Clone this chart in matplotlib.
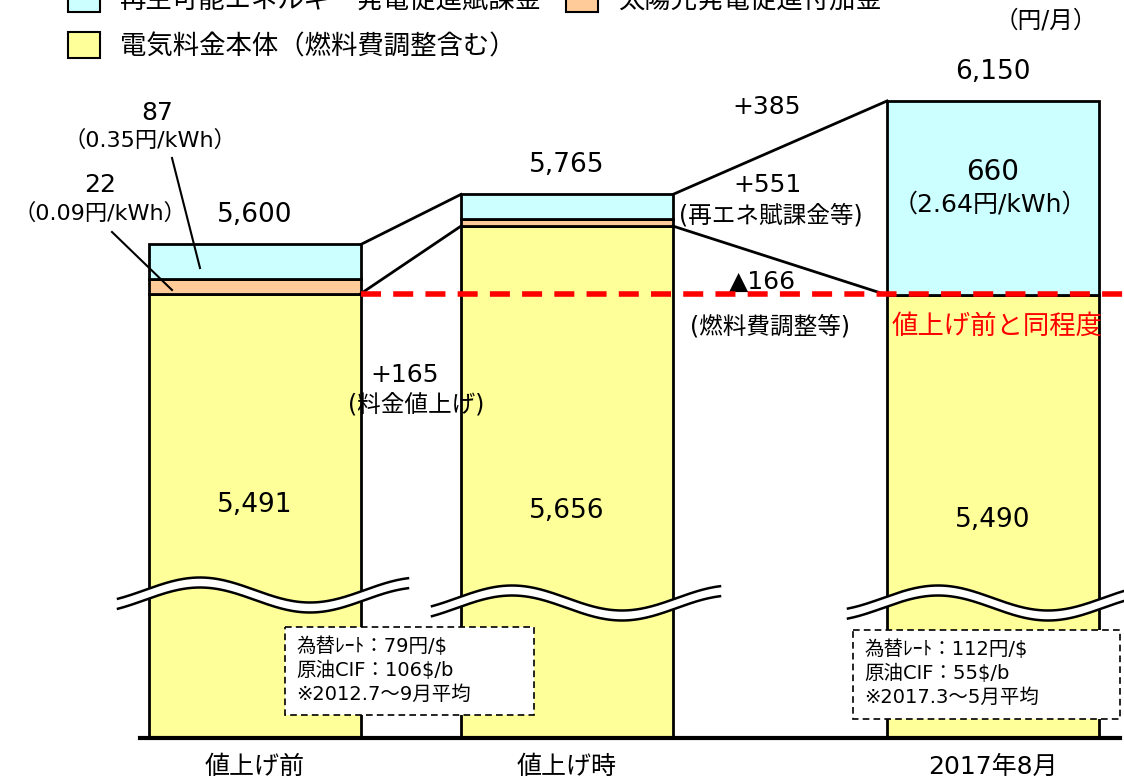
import numpy as np
import matplotlib.pyplot as plt
import matplotlib.transforms as mtransforms
from matplotlib.patches import Patch, Rectangle, Polygon

plt.rcParams['font.family'] = ['DejaVu Sans', 'Noto Sans CJK JP']

# 料金内訳（円/月）
categories = ['値上げ前', '値上げ時', '2017年8月']
base = [5491, 5656, 5490]        # 電気料金本体（燃料費調整含む）
solar = [22, 22, 0]              # 太陽光発電促進付加金
renewable = [87, 87, 660]        # 再生可能エネルギー発電促進賦課金
totals = [5600, 5765, 6150]
diff_labels = ['+165', '+385', '+551', '▲166']
rate_notes = [['為替ﾚｰﾄ：79円/$', '原油CIF：106$/b', '※2012.7～9月平均'],
              ['為替ﾚｰﾄ：112円/$', '原油CIF：55$/b', '※2017.3～5月平均']]

C_BASE, C_SOLAR, C_RENEW = '#FFFF99', '#FFCC99', '#CCFFFF'

W, H = 1124, 779
fig = plt.figure(figsize=(W / 100, H / 100), dpi=100)
ax = fig.add_axes([0, 0, 1, 1])

# 縦軸は省略記号付き：本体部分は圧縮、上乗せ部分は拡大
B = 5490.0
S = 443.0 / B
K = 1.49
P = 0.75


def fwd(v):
    v = np.asarray(v, dtype=float)
    d = np.clip(v - B, 0, None)
    return np.where(v <= B, v * S, B * S + K * d ** P)


def inv(u):
    u = np.asarray(u, dtype=float)
    d = np.clip(u - B * S, 0, None)
    return np.where(u <= B * S, u / S, B + (d / K) ** (1 / P))


ax.set_yscale('function', functions=(fwd, inv))

# 画素座標（左上原点）
px = mtransforms.Affine2D().scale(1 / W, -1 / H).translate(0, 1) + fig.transFigure

xs = np.array([255, 567, 993])
bw = 212
bot2 = np.add(base, solar)
ax.bar(xs, base, width=bw, color=C_BASE, edgecolor='black', lw=2, zorder=2)
ax.bar(xs, solar, width=bw, bottom=base, color=C_SOLAR, edgecolor='black', lw=2, zorder=2)
ax.bar(xs, renewable, width=bw, bottom=bot2, color=C_RENEW, edgecolor='black', lw=2, zorder=2)

# 棒の間の連結線
for i in range(2):
    xr, xl = xs[i] + bw / 2, xs[i + 1] - bw / 2
    ax.plot([xr, xl], [totals[i], totals[i + 1]], color='black', lw=2, zorder=3)
    ax.plot([xr, xl], [base[i], base[i + 1]], color='black', lw=2, zorder=3)

# 値上げ前の水準
ax.plot([xs[0] + bw / 2, W], [base[0], base[0]], color='red', lw=4,
        ls=(0, (3.6, 2.2)), zorder=5)

# 基準線
ax.plot([140, 1120], [0, 0], color='black', lw=3, zorder=6)

# 合計値
for x, t in zip(xs, totals):
    ax.annotate(f'{t:,}', (x, t), xytext=(0, 21), textcoords='offset points',
                ha='center', va='center', fontsize=19)

# 本体の値
for x, v, y in zip(xs, base, [505, 511, 520]):
    ax.text(x, y, f'{v:,}', transform=px, ha='center', va='center', fontsize=19)

# 区分名
for x, c in zip(xs, categories):
    ax.annotate(c, (x, 0), xytext=(0, -21), textcoords='offset points',
                ha='center', va='center', fontsize=18)

# 省略記号（波線）
for xc, yc, x0, x1 in [(255, 590, 118, 408), (567, 598, 432, 720), (993, 598, 848, 1124)]:
    xx = np.linspace(x0, x1, 200)
    yy = yc - 12.5 * np.sin(2 * np.pi * (xx - xc + 110) / 220)
    poly = np.column_stack([np.r_[xx, xx[::-1]], np.r_[yy, yy[::-1] + 10]])
    ax.add_patch(Polygon(poly, closed=True, facecolor='white', edgecolor='none',
                         transform=px, zorder=4))
    ax.plot(xx, yy, color='black', lw=1.8, transform=px, zorder=4)
    ax.plot(xx, yy + 10, color='black', lw=1.8, transform=px, zorder=4)

# 為替・原油の注記
for (x0, y0, w, h), lines in zip([(285, 627, 249, 88), (853, 630, 267, 89)], rate_notes):
    ax.add_patch(Rectangle((x0, y0), w, h, transform=px, facecolor='white',
                           edgecolor='black', lw=1.2, ls=(0, (4, 2.5)), zorder=7))
    for j, s in enumerate(lines):
        ax.text(x0 + 11, y0 + 19 + j * 24, s, transform=px, ha='left', va='center',
                fontsize=14, zorder=8)

# 賦課金・付加金の注記
ax.text(157, 113, f'{renewable[0]}', transform=px, ha='center', va='center', fontsize=18)
ax.text(150, 140, '（0.35円/kWh）', transform=px, ha='center', va='center', fontsize=16)
ax.text(100, 185, f'{solar[0]}', transform=px, ha='center', va='center', fontsize=18)
ax.text(100, 213, '（0.09円/kWh）', transform=px, ha='center', va='center', fontsize=16)
ax.plot([172, 200], [158, 268], color='black', lw=1.5, transform=px, zorder=6)
ax.plot([112, 172], [232, 290], color='black', lw=1.5, transform=px, zorder=6)

ax.text(993, 172, f'{renewable[2]}', transform=px, ha='center', va='center', fontsize=20)
ax.text(990, 205, '（2.64円/kWh）', transform=px, ha='center', va='center', fontsize=18)

ax.text(405, 375, diff_labels[0], transform=px, ha='center', va='center', fontsize=18, zorder=6)
ax.text(416, 405, '(料金値上げ)', transform=px, ha='center', va='center', fontsize=17, zorder=6)
ax.text(767, 107, diff_labels[1], transform=px, ha='center', va='center', fontsize=18)
ax.text(767, 185, diff_labels[2], transform=px, ha='center', va='center', fontsize=18)
ax.text(771, 215, '(再エネ賦課金等)', transform=px, ha='center', va='center', fontsize=17)
ax.text(762, 282, diff_labels[3], transform=px, ha='center', va='center', fontsize=18)
ax.text(770, 327, '(燃料費調整等)', transform=px, ha='center', va='center', fontsize=17)
ax.text(997, 327, '値上げ前と同程度', transform=px, ha='center', va='center',
        fontsize=19, color='red', zorder=6)
ax.text(1046, 20, '（円/月）', transform=px, ha='center', va='center', fontsize=17)

# 凡例
handles = [Patch(facecolor=C_RENEW, edgecolor='black', lw=1.5),
           Patch(facecolor=C_BASE, edgecolor='black', lw=1.5),
           Patch(facecolor=C_SOLAR, edgecolor='black', lw=1.5)]
labels = ['再生可能エネルギー発電促進賦課金', '電気料金本体（燃料費調整含む）', '太陽光発電促進付加金']
fig.legend(handles, labels, ncol=2, loc='upper left',
           bbox_to_anchor=(68 / W, 1 + 14 / H), frameon=False, fontsize=19,
           borderpad=0, borderaxespad=0, handlelength=1.21, handleheight=1.14,
           handletextpad=0.76, columnspacing=0.9, labelspacing=0.7)

ax.set_xlim(0, W)
ax.set_ylim(float(inv(-41)), float(inv(738)))
ax.axis('off')

fig.savefig('out.png', dpi=100)
